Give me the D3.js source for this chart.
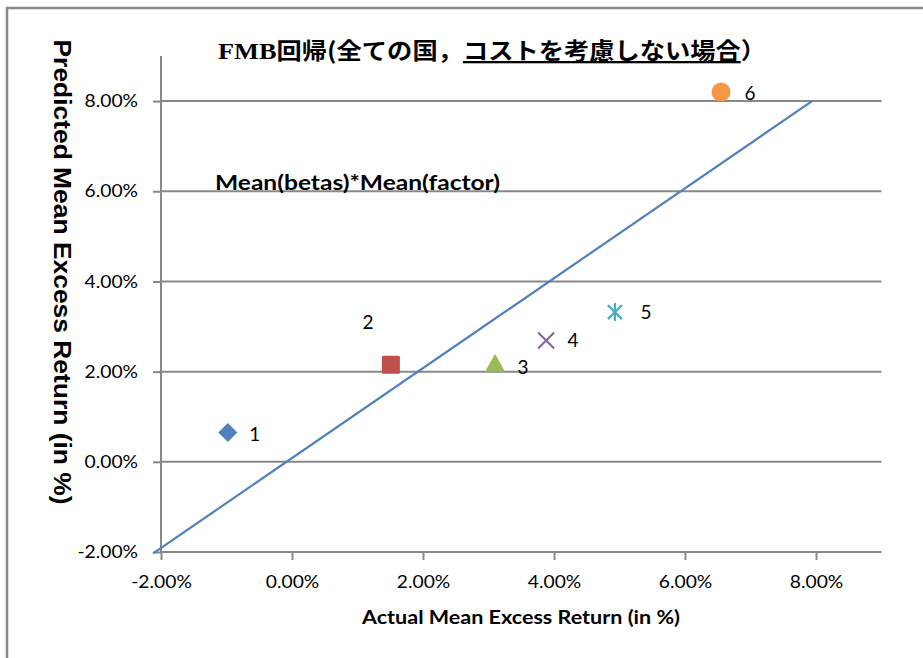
<!DOCTYPE html>
<html><head><meta charset="utf-8">
<script src="https://cdn.jsdelivr.net/npm/d3@7"></script>
<style>body{margin:0;background:#fff}svg{display:block}</style>
</head><body>
<script>
// ---- data ----
const labels = ["1","2","3","4","5","6"];
const actual = [-0.98, 1.51, 3.10, 3.88, 4.93, 6.55];      // %
const predicted = [0.65, 2.15, 2.15, 2.69, 3.32, 8.20];    // %
const symbols = ["diamond","square","triangle","x","asterisk","circle"];
const colors = ["#4F81BD","#C0504D","#9BBB59","#8064A2","#4BACC6","#F79646"];
const lineX = [-2.12, 7.94];
const lineY = [-2.03, 8.0];
const xTicks = [-2, 0, 2, 4, 6, 8];
const yTicks = [-2, 0, 2, 4, 6, 8];
const xDomain = [-2, 9];
const yDomain = [-2, 9];
const titleParts = ["FMB", "回帰(全ての国，", "コストを考慮しない場合", "）"];
const annotation = "Mean(betas)*Mean(factor)";
const xTitle = "Actual Mean Excess Return (in %)";
const yTitle = "Predicted Mean Excess Return (in %)";

const W = 923, H = 658;
const svg = d3.select("body").append("svg").attr("width", W).attr("height", H);
function stretch(sel, f) {
  sel.each(function () {
    const w = this.getComputedTextLength();
    d3.select(this).attr("textLength", w * f).attr("lengthAdjust", "spacingAndGlyphs");
  });
}
function fitTo(sel, len) {
  sel.attr("textLength", len).attr("lengthAdjust", "spacingAndGlyphs");
}
// outer border (cropped chart area)
svg.append("rect").attr("x", 7).attr("y", 8).attr("width", W + 20).attr("height", H + 20)
  .attr("fill", "none").attr("stroke", "#888").attr("stroke-width", 2.5);

const pL = 161, pR = 881.5, pT = 56, pB = 552;
const x = d3.scaleLinear().domain(xDomain).range([pL, pR]);
const y = d3.scaleLinear().domain(yDomain).range([pB, pT]);
const fmt = d => d.toFixed(2) + "%";
const tickFont = "Lato, 'Open Sans', sans-serif";

// gridlines
svg.append("g").selectAll("line").data(yTicks.filter(d => d !== -2)).join("line")
  .attr("x1", pL).attr("x2", pR).attr("y1", d => y(d)).attr("y2", d => y(d))
  .attr("stroke", "#888").attr("stroke-width", 2);

// axes
const xAxis = svg.append("g").attr("transform", `translate(0,${pB})`)
  .call(d3.axisBottom(x).tickValues(xTicks).tickFormat(fmt).tickSize(8).tickPadding(16));
const yAxis = svg.append("g").attr("transform", `translate(${pL},0)`)
  .call(d3.axisLeft(y).tickValues(yTicks).tickFormat(fmt).tickSize(8).tickPadding(15));
[xAxis, yAxis].forEach(a => {
  a.select(".domain").attr("stroke", "#888").attr("stroke-width", 2);
  a.selectAll(".tick line").attr("stroke", "#888").attr("stroke-width", 2);
  a.selectAll(".tick text").attr("fill", "#000").style("font-family", tickFont).style("font-size", "17.5px");
  stretch(a.selectAll(".tick text"), 1.1);
});
xAxis.select(".domain").attr("d", `M${pL},0H${pR}`);
yAxis.select(".domain").attr("d", `M0,${pT}V${pB}`);

// diagonal line
svg.append("path").datum(lineX.map((d, i) => [d, lineY[i]]))
  .attr("d", d3.line().x(d => x(d[0])).y(d => y(d[1])))
  .attr("fill", "none").attr("stroke", "#4F81BD").attr("stroke-width", 2.2);

// markers
const pts = labels.map((l, i) => ({l, x: actual[i], y: predicted[i], s: symbols[i], c: colors[i]}));
const g = svg.append("g");
pts.forEach(p => {
  const cx = x(p.x), cy = y(p.y);
  if (p.s === "diamond") {
    g.append("path").attr("d", `M${cx},${cy - 9.5}L${cx + 9.5},${cy}L${cx},${cy + 9.5}L${cx - 9.5},${cy}Z`).attr("fill", p.c);
  } else if (p.s === "square") {
    g.append("rect").attr("x", cx - 9).attr("y", cy - 9).attr("width", 18).attr("height", 18).attr("rx", 1.5).attr("fill", p.c);
  } else if (p.s === "triangle") {
    g.append("path").attr("d", `M${cx},${cy - 11}L${cx + 10},${cy + 7}L${cx - 10},${cy + 7}Z`).attr("fill", p.c);
  } else if (p.s === "x") {
    g.append("path").attr("d", `M${cx - 8},${cy - 8}L${cx + 8},${cy + 8}M${cx + 8},${cy - 8}L${cx - 8},${cy + 8}`)
      .attr("stroke", p.c).attr("stroke-width", 2);
  } else if (p.s === "asterisk") {
    g.append("path").attr("d", `M${cx - 7},${cy - 7}L${cx + 7},${cy + 7}M${cx + 7},${cy - 7}L${cx - 7},${cy + 7}M${cx},${cy - 9}L${cx},${cy + 9}`)
      .attr("stroke", p.c).attr("stroke-width", 2.2);
  } else if (p.s === "circle") {
    g.append("circle").attr("cx", cx).attr("cy", cy).attr("r", 9.5).attr("fill", p.c);
  }
});
// data labels
const labOff = {"1": [27, 4], "2": [-23, -41], "3": [28, 4], "4": [27, 2], "5": [31, 2], "6": [29, 3]};
g.selectAll("text.lab").data(pts).join("text").attr("class", "lab")
  .attr("x", d => x(d.x) + labOff[d.l][0]).attr("y", d => y(d.y) + labOff[d.l][1])
  .attr("text-anchor", "middle").attr("dominant-baseline", "middle")
  .style("font-family", tickFont).style("font-size", "19px").attr("fill", "#000").text(d => d.l);

// title
const t = svg.append("text").attr("x", 218).attr("y", 59).attr("fill", "#000").style("font-weight", "bold");
t.append("tspan").style("font-family", "'Liberation Serif', serif").style("font-size", "24px").text(titleParts[0]);
t.append("tspan").style("font-family", "'Noto Sans CJK JP', sans-serif").style("font-size", "23px").text(titleParts[1]);
t.append("tspan").style("font-family", "'Noto Sans CJK JP', sans-serif").style("font-size", "23px")
  .style("text-decoration", "underline").text(titleParts[2]);
t.append("tspan").style("font-family", "'Noto Sans CJK JP', sans-serif").style("font-size", "23px").text(titleParts[3]);
fitTo(t, 548);

// annotation
const ann = svg.append("text").attr("x", 215).attr("y", 190).style("font-family", tickFont).style("font-weight", "bold")
  .style("font-size", "20px").attr("fill", "#000").text(annotation);
fitTo(ann, 285);

// axis titles
const xt = svg.append("text").attr("x", 521).attr("y", 624).attr("text-anchor", "middle")
  .style("font-family", tickFont).style("font-weight", "bold").style("font-size", "18px").text(xTitle);
fitTo(xt, 318);
const yt = svg.append("text").attr("transform", "translate(54,272) rotate(90)").attr("text-anchor", "middle")
  .style("font-family", "'Liberation Sans', Arial, sans-serif").style("font-weight", "bold").style("font-size", "24px").text(yTitle);
fitTo(yt, 465);
</script>
</body></html>
